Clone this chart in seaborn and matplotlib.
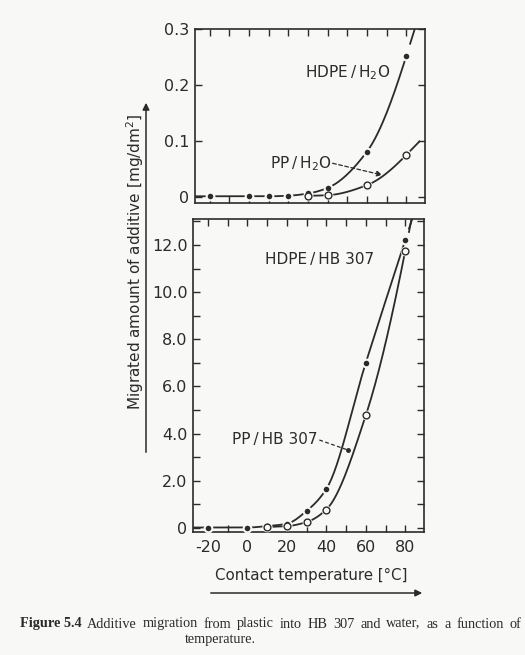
import numpy as np
import pandas as pd
import seaborn as sns
import matplotlib.pyplot as plt
from matplotlib.patches import FancyArrowPatch
from matplotlib.ticker import MultipleLocator, FixedLocator, FixedFormatter

# ---------------- data ----------------
temp_hdpe_h2o = [-20, 0, 10, 20, 30, 40, 60, 80]
hdpe_h2o = [0.001, 0.001, 0.001, 0.002, 0.006, 0.016, 0.081, 0.252]
temp_pp_h2o = [30, 40, 60, 80]
pp_h2o = [0.002, 0.003, 0.021, 0.075]

temp_hdpe_hb = [-20, 0, 10, 20, 30, 40, 60, 80]
hdpe_hb = [0.02, 0.02, 0.08, 0.18, 0.72, 1.65, 7.0, 12.2]
temp_pp_hb = [10, 20, 30, 40, 60, 80]
pp_hb = [0.05, 0.08, 0.25, 0.78, 4.77, 11.75]

top_yticks = [0, 0.1, 0.2, 0.3]
top_ylabels = ["0", "0.1", "0.2", "0.3"]
bot_yticks = [0, 2, 4, 6, 8, 10, 12]
bot_ylabels = ["0", "2.0", "4.0", "6.0", "8.0", "10.0", "12.0"]
xticks = [-20, 0, 20, 40, 60, 80]
xlabels = ["-20", "0", "20", "40", "60", "80"]

# ---------------- style ----------------
PAPER = "#f8f8f6"
INK = "#2b2b2b"
sns.set_theme(style="ticks")
plt.rcParams["font.family"] = ["DejaVu Sans"]
plt.rcParams["mathtext.default"] = "regular"
plt.rcParams["axes.edgecolor"] = INK
plt.rcParams["xtick.color"] = INK
plt.rcParams["ytick.color"] = INK
plt.rcParams["text.color"] = INK
FS = 11.5
LFS = 11


def pchip_slopes(x, y):
    x = np.asarray(x, float); y = np.asarray(y, float)
    h = np.diff(x); delta = np.diff(y) / h
    n = len(x); d = np.zeros(n)
    for k in range(1, n - 1):
        if delta[k - 1] * delta[k] <= 0:
            d[k] = 0.0
        else:
            w1 = 2 * h[k] + h[k - 1]; w2 = h[k] + 2 * h[k - 1]
            d[k] = (w1 + w2) / (w1 / delta[k - 1] + w2 / delta[k])
    def end(h0, h1, d0, d1):
        s = ((2 * h0 + h1) * d0 - h0 * d1) / (h0 + h1)
        if np.sign(s) != np.sign(d0):
            s = 0.0
        elif np.sign(d0) != np.sign(d1) and abs(s) > abs(3 * d0):
            s = 3 * d0
        return s
    d[0] = end(h[0], h[1], delta[0], delta[1])
    d[-1] = end(h[-1], h[-2], delta[-1], delta[-2])
    return x, y, d


def smooth_path(x, y, steps=30):
    """Render a smooth (monotone Hermite) curve through the data points."""
    x, y, d = pchip_slopes(x, y)
    xs, ys = [], []
    for k in range(len(x) - 1):
        h = x[k + 1] - x[k]
        t = np.linspace(0, 1, steps, endpoint=False)
        h00 = 2 * t**3 - 3 * t**2 + 1; h10 = t**3 - 2 * t**2 + t
        h01 = -2 * t**3 + 3 * t**2; h11 = t**3 - t**2
        xs.append(x[k] + t * h)
        ys.append(h00 * y[k] + h10 * h * d[k] + h01 * y[k + 1] + h11 * h * d[k + 1])
    xs.append([x[-1]]); ys.append([y[-1]])
    return np.concatenate(xs), np.concatenate(ys), d


def draw_series(ax, x, y, filled, xleft=None):
    xs, ys, d = smooth_path(x, y)
    if xleft is not None:
        xs = np.concatenate([[xleft], xs]); ys = np.concatenate([[ys[0]], ys])
    df = pd.DataFrame({"x": xs, "y": ys})
    sns.lineplot(data=df, x="x", y="y", ax=ax, color=INK, lw=1.3, sort=False,
                 estimator=None)
    # short continuation beyond the last measured point
    x_end, y_end = x[-1], y[-1]
    ext_x = np.array([x_end + 1.8, x_end + 7])
    ext_y = y_end + d[-1] * (ext_x - x_end)
    ax.plot(ext_x, ext_y, color=INK, lw=1.3, solid_capstyle="butt")
    pts = pd.DataFrame({"x": x, "y": y})
    # paper-coloured halo -> small gaps in the line around each point
    sns.scatterplot(data=pts, x="x", y="y", ax=ax, s=50, color=PAPER,
                    edgecolor=PAPER, linewidth=0, zorder=4)
    if filled:
        sns.scatterplot(data=pts, x="x", y="y", ax=ax, s=16, color=INK,
                        edgecolor=INK, linewidth=0, zorder=5)
    else:
        sns.scatterplot(data=pts, x="x", y="y", ax=ax, s=24, facecolor=PAPER,
                        edgecolor=INK, linewidth=1.0, zorder=6)


W, H = 525, 655
fig = plt.figure(figsize=(W / 100, H / 100), dpi=100, facecolor=PAPER)

def fx(px):
    return px / W

def fy(py):
    return 1 - py / H

XLIM = (-27.5, 89.5)
ax1 = fig.add_axes([fx(195), fy(203), fx(425) - fx(195), fy(29) - fy(203)])
ax2 = fig.add_axes([fx(193), fy(532), fx(424) - fx(193), fy(219) - fy(532)])

for ax in (ax1, ax2):
    ax.set_facecolor(PAPER)
    for s in ax.spines.values():
        s.set_linewidth(1.2)
        s.set_color(INK)
    ax.tick_params(which="both", direction="in", top=True, right=True,
                   length=5, width=1.0, labelsize=FS)

# top panel
draw_series(ax1, temp_hdpe_h2o, hdpe_h2o, True, xleft=XLIM[0])
draw_series(ax1, temp_pp_h2o, pp_h2o, False)
ax1.set_xlim(*XLIM)
ax1.set_ylim(-0.011, 0.3)
ax1.xaxis.set_major_locator(MultipleLocator(10))
ax1.tick_params(axis="x", labelbottom=False)
ax1.yaxis.set_major_locator(FixedLocator(top_yticks))
ax1.yaxis.set_major_formatter(FixedFormatter(top_ylabels))
ax1.tick_params(axis="y", pad=4)
ax1.set_xlabel(""); ax1.set_ylabel("")

ax1.text(28.5, 0.222, "HDPE\u2009/\u2009H$_2$O", fontsize=LFS, va="center", ha="left")
ax1.text(10.7, 0.060, "PP\u2009/\u2009H$_2$O", fontsize=LFS, va="center", ha="left")
ax1.annotate("", xy=(67.8, 0.039), xytext=(42.5, 0.060),
             arrowprops=dict(arrowstyle="-|>", linestyle=(0, (3, 2)), lw=0.9,
                             color=INK, mutation_scale=8, shrinkA=0, shrinkB=0))

# bottom panel
draw_series(ax2, temp_hdpe_hb, hdpe_hb, True, xleft=XLIM[0])
draw_series(ax2, temp_pp_hb, pp_hb, False)
ax2.set_xlim(*XLIM)
ax2.set_ylim(-0.17, 13.1)
ax2.xaxis.set_major_locator(FixedLocator(xticks))
ax2.xaxis.set_major_formatter(FixedFormatter(xlabels))
ax2.xaxis.set_minor_locator(MultipleLocator(10))
ax2.yaxis.set_major_locator(FixedLocator(bot_yticks))
ax2.yaxis.set_major_formatter(FixedFormatter(bot_ylabels))
ax2.yaxis.set_minor_locator(MultipleLocator(1))
ax2.tick_params(axis="x", pad=6)
ax2.tick_params(axis="y", pad=4)
ax2.set_xlabel(""); ax2.set_ylabel("")

ax2.text(9.2, 11.37, "HDPE\u2009/\u2009HB 307", fontsize=LFS, va="center", ha="left")
ax2.text(-7.6, 3.77, "PP\u2009/\u2009HB 307", fontsize=LFS, va="center", ha="left")
ax2.plot([36.5, 50.8], [3.73, 3.31], color=INK, lw=0.9, ls=(0, (3, 2)))
ax2.plot([50.8], [3.31], marker="o", ms=2.5, color=INK)

# axis titles with arrows
fig.text(fx(135), fy(262), "Migrated amount of additive [mg/dm$^2$]",
         rotation=90, ha="center", va="center", fontsize=11)
fig.text(fx(311), fy(575), "Contact temperature [°C]", ha="center",
         va="center", fontsize=10.8)
fig.patches.append(FancyArrowPatch(
    (fx(146), fy(455)), (fx(146), fy(100)), transform=fig.transFigure,
    arrowstyle="-|>", mutation_scale=10, lw=1.1, color=INK))
fig.patches.append(FancyArrowPatch(
    (fx(208), fy(593)), (fx(425), fy(593)), transform=fig.transFigure,
    arrowstyle="-|>", mutation_scale=10, lw=1.1, color=INK))

# caption (justified first line)
cap_font = ["Liberation Serif", "DejaVu Serif"]
CFS = 10.3
words = [("Figure 5.4", "bold")] + [(w, "normal") for w in
         "Additive migration from plastic into HB 307 and water, as a function of".split()]
renderer = fig.canvas.get_renderer()
objs = [fig.text(0, fy(624), w, fontsize=CFS, fontweight=wt, family=cap_font,
                 ha="left", va="center") for w, wt in words]
widths = [t.get_window_extent(renderer).width for t in objs]
x0, x1 = 20, 521
gap = (x1 - x0 - sum(widths)) / (len(objs) - 1)
xcur = x0
for t, w in zip(objs, widths):
    t.set_x(fx(xcur))
    xcur += w + gap
fig.text(fx(220), fy(639), "temperature.", fontsize=CFS, family=cap_font,
         ha="center", va="center")

fig.savefig("out.png", dpi=100, facecolor=PAPER)
